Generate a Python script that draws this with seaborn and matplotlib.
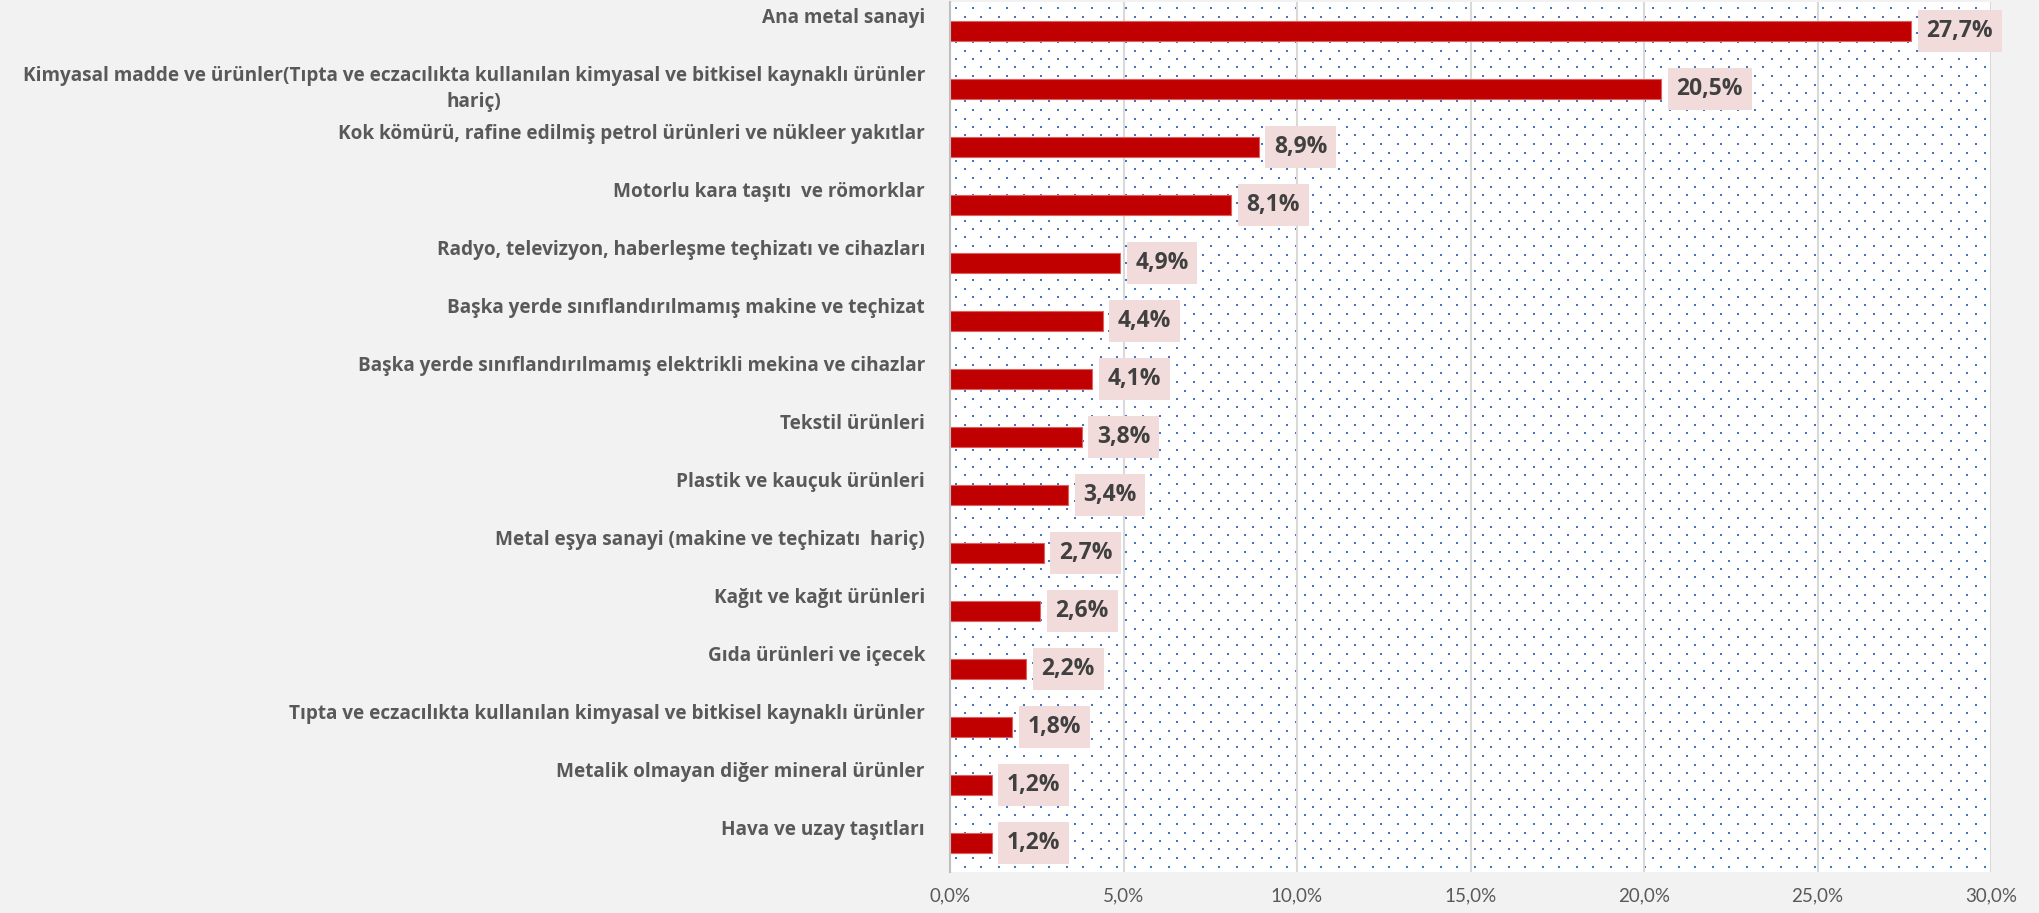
import numpy as np
import pandas as pd
import matplotlib
matplotlib.use("Agg")
import matplotlib.pyplot as plt
import seaborn as sns

categories = [
    "Ana metal sanayi",
    "Kimyasal madde ve ürünler(Tıpta ve eczacılıkta kullanılan kimyasal ve bitkisel kaynaklı ürünler\nhariç)",
    "Kok kömürü, rafine edilmiş petrol ürünleri ve nükleer yakıtlar",
    "Motorlu kara taşıtı  ve römorklar",
    "Radyo, televizyon, haberleşme teçhizatı ve cihazları",
    "Başka yerde sınıflandırılmamış makine ve teçhizat",
    "Başka yerde sınıflandırılmamış elektrikli mekina ve cihazlar",
    "Tekstil ürünleri",
    "Plastik ve kauçuk ürünleri",
    "Metal eşya sanayi (makine ve teçhizatı  hariç)",
    "Kağıt ve kağıt ürünleri",
    "Gıda ürünleri ve içecek",
    "Tıpta ve eczacılıkta kullanılan kimyasal ve bitkisel kaynaklı ürünler",
    "Metalik olmayan diğer mineral ürünler",
    "Hava ve uzay taşıtları",
]
values = [27.7, 20.5, 8.9, 8.1, 4.9, 4.4, 4.1, 3.8, 3.4, 2.7, 2.6, 2.2, 1.8, 1.2, 1.2]
xticks = [0, 5, 10, 15, 20, 25, 30]
xtick_labels = ["0,0%", "5,0%", "10,0%", "15,0%", "20,0%", "25,0%", "30,0%"]

sns.set_style("white")
plt.rcParams["font.family"] = ["Lato", "DejaVu Sans"]

W, H, DPI = 2040, 913, 100
fig = plt.figure(figsize=(W / DPI, H / DPI), dpi=DPI, facecolor="#F2F2F2")
left, right, top, bottom = 950, 1991, 2, 872
ax = fig.add_axes([left / W, 1 - bottom / H, (right - left) / W, (bottom - top) / H])

# dotted background texture of the plot area
aw, ah = right - left, bottom - top
tex = np.ones((ah, aw, 3))
dot = np.array([0x44, 0x72, 0xC4]) / 255.0
for r, yy in enumerate(np.arange(5, ah, 8.5)):
    yi = int(round(yy))
    start = 5 if r % 2 == 0 else 13.5
    for xx in np.arange(start, aw, 17):
        xi = int(round(xx))
        tex[yi:yi + 2, xi:xi + 2] = dot
ax.imshow(tex, extent=(0, 1, 0, 1), transform=ax.transAxes, aspect="auto",
          interpolation="nearest", zorder=0.1)

df = pd.DataFrame({"cat": categories, "val": values})
sns.barplot(data=df, x="val", y="cat", orient="h", color="#C00000",
            width=0.35, edgecolor="#E06060", linewidth=0.8, ax=ax, zorder=3,
            saturation=1)

ax.set_xlim(0, 30)
ax.set_ylim(len(categories) - 0.5, -0.5)
ax.set_xticks(xticks)
ax.set_xticklabels(xtick_labels)
ax.set_yticks(range(len(categories)))
ylabels = [c if "\n" in c else c + "\n" for c in categories]
ax.set_yticklabels(ylabels)
for t in ax.get_yticklabels():
    t.set_fontfamily(["Open Sans", "DejaVu Sans"])
    t.set_fontweight("bold")
    t.set_fontsize(13.7)
    t.set_color("#595959")
    t.set_va("center")
    t.set_multialignment("center")
    t.set_linespacing(1.35)
for t in ax.get_xticklabels():
    t.set_fontsize(13.5)
    t.set_color("#595959")
ax.tick_params(axis="y", length=0, pad=18)
ax.tick_params(axis="x", length=0, pad=11)
ax.set_xlabel("")
ax.set_ylabel("")

ax.set_axisbelow(True)
ax.grid(axis="x", color="#D9D9D9", linewidth=1.5, zorder=0.5)
ax.grid(axis="y", visible=False)
for s in ["top", "right", "bottom"]:
    ax.spines[s].set_visible(False)
ax.spines["left"].set_color("#BFBFBF")
ax.spines["left"].set_linewidth(1.5)
ax.spines["left"].set_zorder(4)
ax.patch.set_facecolor("white")

labels = [f"{v:.1f}".replace(".", ",") + "%" for v in values]
ax.bar_label(ax.containers[0], labels=labels, padding=11, fontsize=16.5,
             fontweight="bold", color="#404040", family=["Open Sans", "DejaVu Sans"],
             bbox=dict(facecolor="#F2DCDB", edgecolor="none",
                       boxstyle="square,pad=0.38"), zorder=5)

fig.savefig("out.png", dpi=DPI, facecolor=fig.get_facecolor())
